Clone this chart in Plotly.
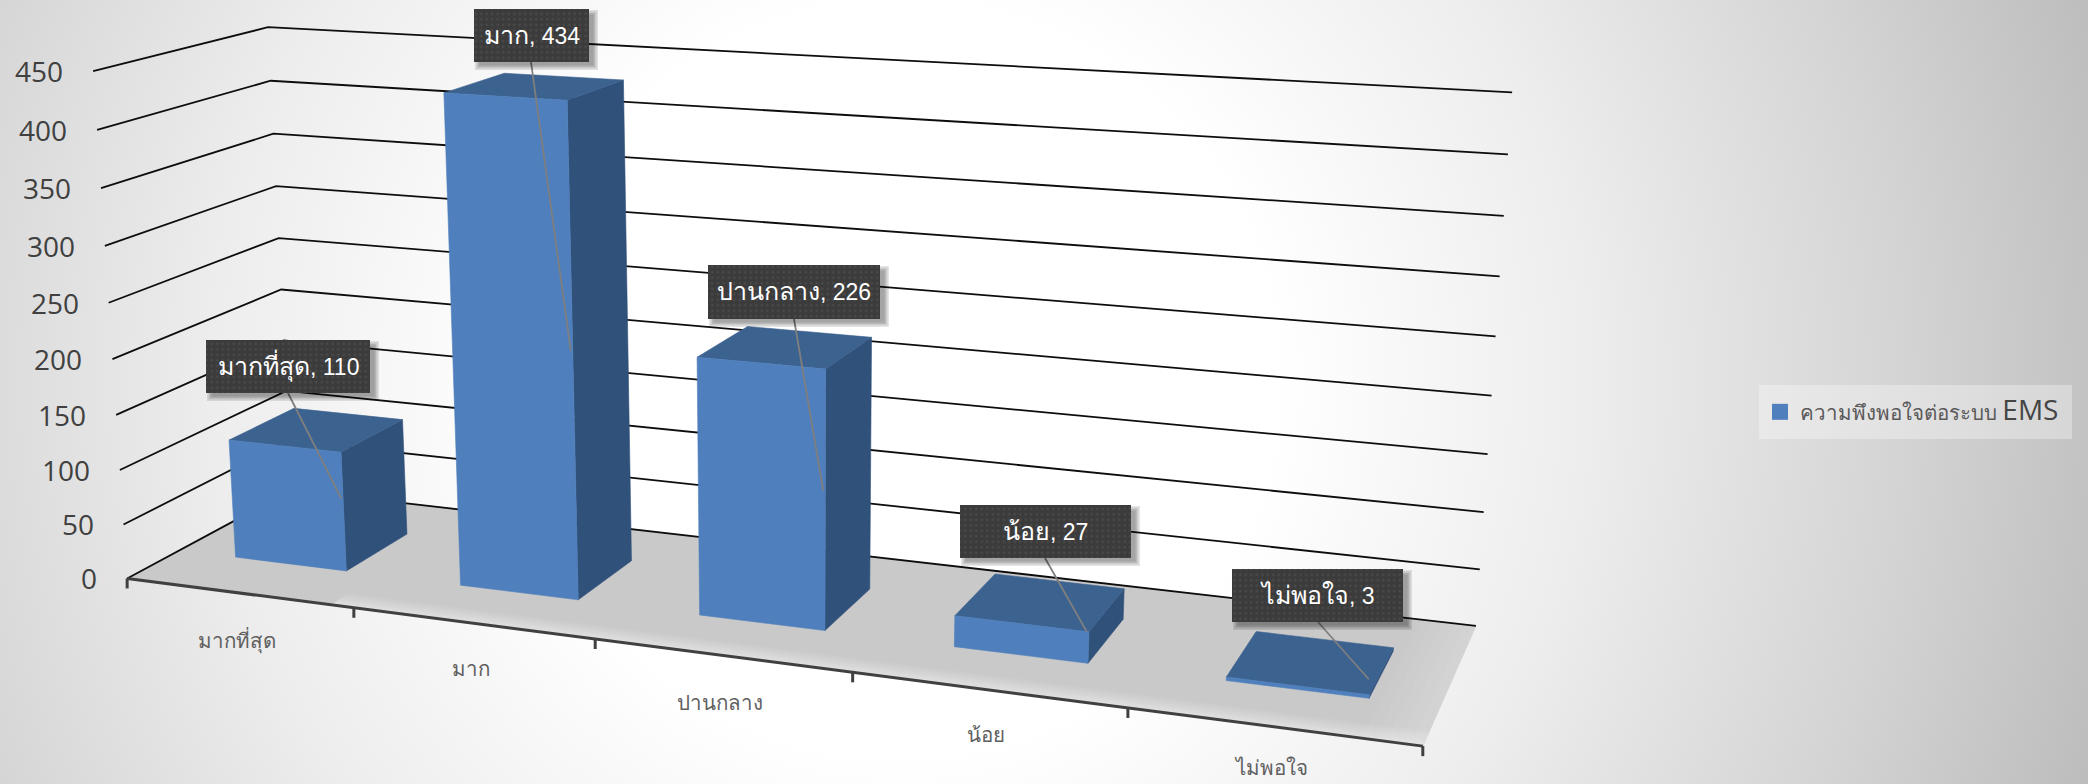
import base64
import numpy as np
import plotly.graph_objects as go

# ---------- chart data ----------
categories = ["มากที่สุด", "มาก", "ปานกลาง", "น้อย", "ไม่พอใจ"]
values = [110, 434, 226, 27, 3]
y_ticks = [0, 50, 100, 150, 200, 250, 300, 350, 400, 450]
series_name = "ความพึงพอใจต่อระบบ EMS"

# ---------- camera calibration: (cat, depth, value) -> picture pixel ----------
front_left = [(93, 70.5), (97, 129.5), (101, 188), (105, 245.5), (109, 302.5),
              (112.5, 359), (116.5, 414.5), (120, 470), (123.7, 524.5), (127, 578.5)]
back_left_top = [(268, 27.5), (270.5, 81), (273, 134), (276, 186.5), (278.6, 238.5), (281, 289.5)]
back_right = [(1512, 93), (1508, 155), (1504, 216), (1500, 276), (1495.5, 336),
              (1491.7, 395.4), (1487.4, 453.7), (1483.6, 511.6), (1479.8, 569), (1476.5, 625.3)]
front_ticks = [(127, 578.5), (354, 608), (595, 638), (853, 674), (1127.5, 709), (1422, 746.5)]

pts = []
for (u, v), z in zip(front_left, y_ticks[::-1]):
    pts.append((0, 0, z, u, v))
for (u, v), z in zip(back_left_top, y_ticks[::-1]):
    pts.append((0, 1, z, u, v))
for (u, v), z in zip(back_right, y_ticks[::-1]):
    pts.append((5, 1, z, u, v))
for i, (u, v) in enumerate(front_ticks):
    pts.append((i, 0, 0, u, v))

A, b = [], []
for X, Y, Z, u, v in pts:
    Z = Z / 450
    A.append([X, Y, Z, 1, 0, 0, 0, 0, -u * X, -u * Y, -u * Z]); b.append(u)
    A.append([0, 0, 0, 0, X, Y, Z, 1, -v * X, -v * Y, -v * Z]); b.append(v)
p = np.linalg.lstsq(np.array(A, float), np.array(b, float), rcond=None)[0]
P = np.append(p, 1.0).reshape(3, 4)


def proj(X, Y, Z):
    w = P @ np.array([X, Y, Z / 450, 1.0])
    return w[0] / w[2], w[1] / w[2]


def poly(corners, color, line=True):
    q = [proj(*c) for c in corners] + [proj(*corners[0])]
    return go.Scatter(x=[a for a, _ in q], y=[a for _, a in q], mode="lines", fill="toself",
                      fillcolor=color, line=dict(color=color, width=0.6 if line else 0), hoverinfo="skip",
                      showlegend=False)


def seg(points, color, width):
    q = [proj(*c) for c in points]
    return go.Scatter(x=[a for a, _ in q], y=[a for _, a in q], mode="lines",
                      line=dict(color=color, width=width), hoverinfo="skip", showlegend=False)


W, H = 2088, 784
C_FRONT, C_TOP, C_SIDE = "#4f7fbc", "#3c628f", "#30517a"
fig = go.Figure()

# floor with soft fades at the front and right edges
fig.add_trace(poly([(0, 0, 0), (5, 0, 0), (5, 1, 0), (0, 1, 0)], "#c9c9c9"))
for d in (0.11, 0.095, 0.08, 0.065, 0.05, 0.04, 0.03, 0.02, 0.012):
    fig.add_trace(poly([(0.9, 0, 0), (5, 0, 0), (5, d, 0), (0.9, d, 0)], "rgba(255,255,255,0.07)", line=False))
for d in (0.10, 0.08, 0.06, 0.04, 0.02):
    fig.add_trace(poly([(5 - d * 2, 0, 0), (5, 0, 0), (5, 1, 0), (5 - d * 2, 1, 0)], "rgba(255,255,255,0.05)", line=False))

# wall gridlines
for t in y_ticks:
    fig.add_trace(seg([(0, 0, t), (0, 1, t), (5, 1, t)], "#0d0d0d", 1.8))
# category axis
fig.add_trace(seg([(0, 0, 0), (5, 0, 0)], "#404040", 3))
for i in range(6):
    a = proj(i, 0, 0)
    fig.add_trace(go.Scatter(x=[a[0], a[0]], y=[a[1], a[1] + 10], mode="lines",
                             line=dict(color="#404040", width=3), hoverinfo="skip", showlegend=False))

# bars
BAR_X = (0.258, 0.758)
BAR_Y = (0.30, 0.70)
for i, v in enumerate(values):
    x0, x1 = i + BAR_X[0], i + BAR_X[1]
    y0, y1 = BAR_Y
    fig.add_trace(poly([(x1, y0, 0), (x1, y1, 0), (x1, y1, v), (x1, y0, v)], C_SIDE))
    fig.add_trace(poly([(x0, y0, v), (x1, y0, v), (x1, y1, v), (x0, y1, v)], C_TOP))
    fig.add_trace(poly([(x0, y0, 0), (x1, y0, 0), (x1, y0, v), (x0, y0, v)], C_FRONT))

# legend entry
legend_name = series_name.replace("EMS", '<span style="font-size:28px;fill:#454545">EMS</span>')
fig.add_trace(go.Scatter(x=[None], y=[None], mode="markers", name=legend_name,
                         marker=dict(symbol="square", size=18, color=C_FRONT), showlegend=True))

# data labels
label_boxes = [(206, 340, 370, 393), (474, 9, 589, 62), (708, 265, 880, 319),
               (960, 505, 1131, 558), (1232, 569, 1403, 622)]
leader_start = [(288, 393), (531, 62), (794, 319), (1045, 558), (1318, 622)]
# where each leader meets its bar: (category offset, depth, fraction of value)
leader_target = [(0.75, 0.30, 0.61), (0.75, 0.30, 0.51), (0.75, 0.30, 0.54), (0.75, 0.30, 1.0), (0.73, 0.42, 1.0)]
for i, (c, v) in enumerate(zip(categories, values)):
    x0, y0, x1, y1 = label_boxes[i]
    tx, ty, tf = leader_target[i]
    ex, ey = proj(i + tx, ty, v * tf)
    fig.add_trace(go.Scatter(x=[leader_start[i][0], ex], y=[leader_start[i][1], ey], mode="lines",
                             line=dict(color="#7f7f7f", width=1.8), hoverinfo="skip", showlegend=False))
    for g in (6, 4.5, 3, 1.5):
        fig.add_trace(go.Scatter(x=[x0 + 7 - g, x1 + 3 + g, x1 + 3 + g, x0 + 7 - g, x0 + 7 - g],
                                 y=[y0 + 7 - g, y0 + 7 - g, y1 + 2 + g, y1 + 2 + g, y0 + 7 - g],
                                 mode="lines", fill="toself", fillcolor="rgba(0,0,0,0.10)",
                                 line=dict(width=0), hoverinfo="skip", showlegend=False))
    fig.add_trace(go.Scatter(x=[x0, x1, x1, x0, x0], y=[y0, y0, y1, y1, y0], mode="lines", fill="toself",
                             fillcolor="#3a3a3a",
                             fillpattern=dict(shape=".", bgcolor="#3b3b3b", fgcolor="#575757", size=5.5, solidity=0.22),
                             line=dict(width=0), hoverinfo="skip", showlegend=False))

annotations = []
for i, (c, v) in enumerate(zip(categories, values)):
    x0, y0, x1, y1 = label_boxes[i]
    annotations.append(dict(x=(x0 + x1) / 2, y=(y0 + y1) / 2 - 1,
                            text=f'<span style="font-size:25px">{c}</span>, {v}', showarrow=False,
                            font=dict(family="Liberation Sans, Noto Sans, sans-serif", size=23, color="#ffffff"),
                            xanchor="center", yanchor="middle"))
for t in y_ticks:
    a = proj(0, 0, t)
    annotations.append(dict(x=a[0] - 28, y=a[1], text=str(t), showarrow=False, xanchor="right", yanchor="middle",
                            font=dict(family="Open Sans, sans-serif", size=28, color="#404040")))
cat_label_drop = [47, 44.5, 47, 44, 40]
for i, c in enumerate(categories):
    a = proj(i + 0.5, 0, 0)
    annotations.append(dict(x=a[0] - 2, y=a[1] + cat_label_drop[i], text=c, showarrow=False, xanchor="center",
                            yanchor="middle",
                            font=dict(family="Noto Sans, sans-serif", size=20.5, color="#606060")))

grad = ('<svg xmlns="http://www.w3.org/2000/svg" width="2088" height="784">'
        '<defs><radialGradient id="g" gradientUnits="userSpaceOnUse" cx="900" cy="380" r="1250">'
        '<stop offset="0.30" stop-color="#ffffff"/><stop offset="0.55" stop-color="#ededed"/>'
        '<stop offset="0.80" stop-color="#d4d4d4"/><stop offset="1" stop-color="#bdbdbd"/>'
        '</radialGradient></defs><rect width="2088" height="784" fill="url(#g)"/></svg>')
src = "data:image/svg+xml;base64," + base64.b64encode(grad.encode()).decode()

fig.update_layout(
    width=W, height=H, margin=dict(l=0, r=0, t=0, b=0),
    paper_bgcolor="#ffffff", plot_bgcolor="rgba(0,0,0,0)",
    xaxis=dict(range=[0, W], visible=False, fixedrange=True),
    yaxis=dict(range=[H, 0], visible=False, fixedrange=True),
    annotations=annotations,
    shapes=[dict(type="rect", xref="x", yref="y", x0=1759, x1=2072, y0=385, y1=439, line_width=0,
                 fillcolor="rgba(255,255,255,0.32)", layer="below")],
    images=[dict(source=src, xref="paper", yref="paper", x=0, y=1, sizex=1, sizey=1,
                 sizing="stretch", layer="below", xanchor="left", yanchor="top")],
    legend=dict(x=1760 / W, y=1 - 412 / H, xanchor="left", yanchor="middle", bgcolor="rgba(0,0,0,0)",
                font=dict(family="Open Sans, sans-serif", size=20.5, color="#595959"),
                itemwidth=30, tracegroupgap=0),
    showlegend=True,
)
fig.write_html("out.html", config={"displayModeBar": False}, post_script="document.body.style.margin='0';")
